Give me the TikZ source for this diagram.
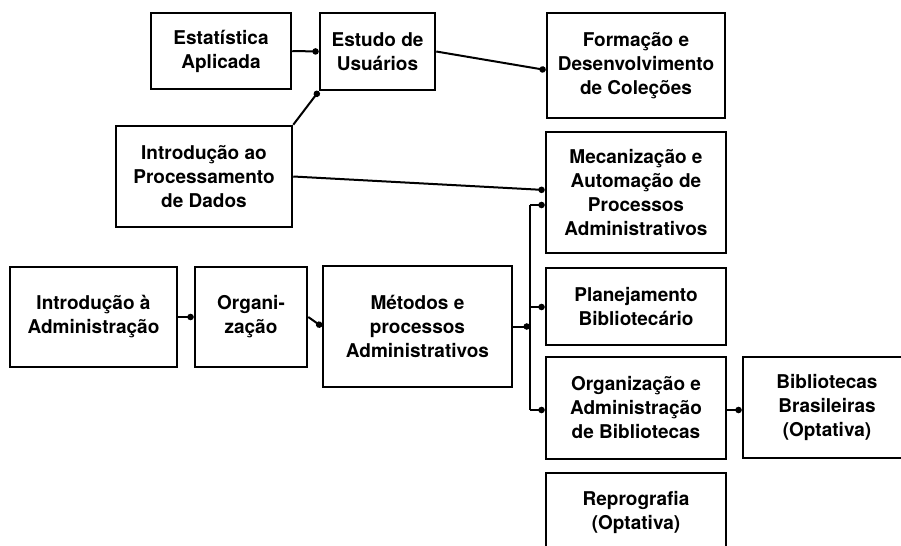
\documentclass[tikz,border=0pt]{standalone}
\usepackage{fontspec}
\setmainfont{TeX Gyre Heros}
\usetikzlibrary{arrows.meta,calc}
\begin{document}
\begin{tikzpicture}[x=0.5pt,y=-0.5pt,
  box/.style={draw=black,line width=1.25pt,rectangle,inner sep=0pt,align=center,
    font=\fontsize{9.5pt}{12pt}\selectfont\bfseries},
  txt/.style={inner sep=0pt,align=center,font=\fontsize{9.5pt}{12pt}\selectfont\bfseries},
  conn/.style={line width=1pt,-{Circle[length=3.2pt]}},
  plain/.style={line width=1pt}]
\useasboundingbox (0,0) rectangle (901,546);
\clip (0,0) rectangle (901,546);
% boxes
\node[box,minimum width=70pt,minimum height=38pt] (estat) at (221,51) {Estatística\\Aplicada};
\node[box,minimum width=57.5pt,minimum height=38.5pt] (estudo) at (377.5,51.5) {Estudo de\\Usuários};
\node[box,minimum width=89pt,minimum height=52.5pt] (form) at (636,65.5) {Formação e\\Desenvolvimento\\de Coleções};
\node[box,minimum width=88pt,minimum height=50.5pt] (intropd) at (204,176.5) {Introdução ao\\Processamento\\de Dados};
\node[box,minimum width=90pt,minimum height=60.5pt] (mec) at (636,192.5) {Mecanização e\\Automação de\\Processos\\Administrativos};
\node[box,minimum width=90pt,minimum height=38.5pt] (plan) at (636,306.5) {Planejamento\\Bibliotecário};
\node[box,minimum width=90pt,minimum height=51pt] (orgadm) at (636,408) {Organização e\\Administração\\de Bibliotecas};
\node[box,minimum width=84pt,minimum height=50.5pt] (bib) at (827,407.5) {Bibliotecas\\Brasileiras\\(Optativa)};
\node[box,minimum width=90pt,minimum height=43.5pt] (repro) at (636,516.5) {};
\node[txt] (reprotxt) at (636,512) {Reprografia\\(Optativa)};
\node[box,minimum width=83.5pt,minimum height=50pt] (introadm) at (93.5,317) {Introdução à\\Administração};
\node[box,minimum width=56pt,minimum height=50pt] (org) at (251,317) {Organi-\\zação};
\node[box,minimum width=94.5pt,minimum height=60.5pt] (met) at (417.5,326.5) {Métodos e\\processos\\Administrativos};
% connectors
\draw[conn] (estat.east) -- (estudo.west);
\draw[conn] (intropd.north east) -- (estudo.south west);
\draw[conn] (estudo.east) -- ($(form.west)+(0,4.5)$);
\draw[conn] (intropd.east) -- ($(mec.west)+(0,-2.5)$);
\draw[conn] (introadm.east) -- (org.west);
\draw[conn] (org.east) -- (met.west);
\coordinate (bustop) at (530,205);
\coordinate (busbot) at (530,410);
\coordinate (busmid) at (530,307);
\coordinate (busin) at (530,326.5);
\draw[plain] (bustop) -- (busbot);
\draw[conn] (met.east) -- (busin);
\draw[conn] (bustop) -- (mec.west |- bustop);
\draw[conn] (busmid) -- (plan.west |- busmid);
\draw[conn] (busbot) -- (orgadm.west |- busbot);
\draw[conn] (orgadm.east |- busbot) -- (bib.west |- busbot);
\end{tikzpicture}
\end{document}
